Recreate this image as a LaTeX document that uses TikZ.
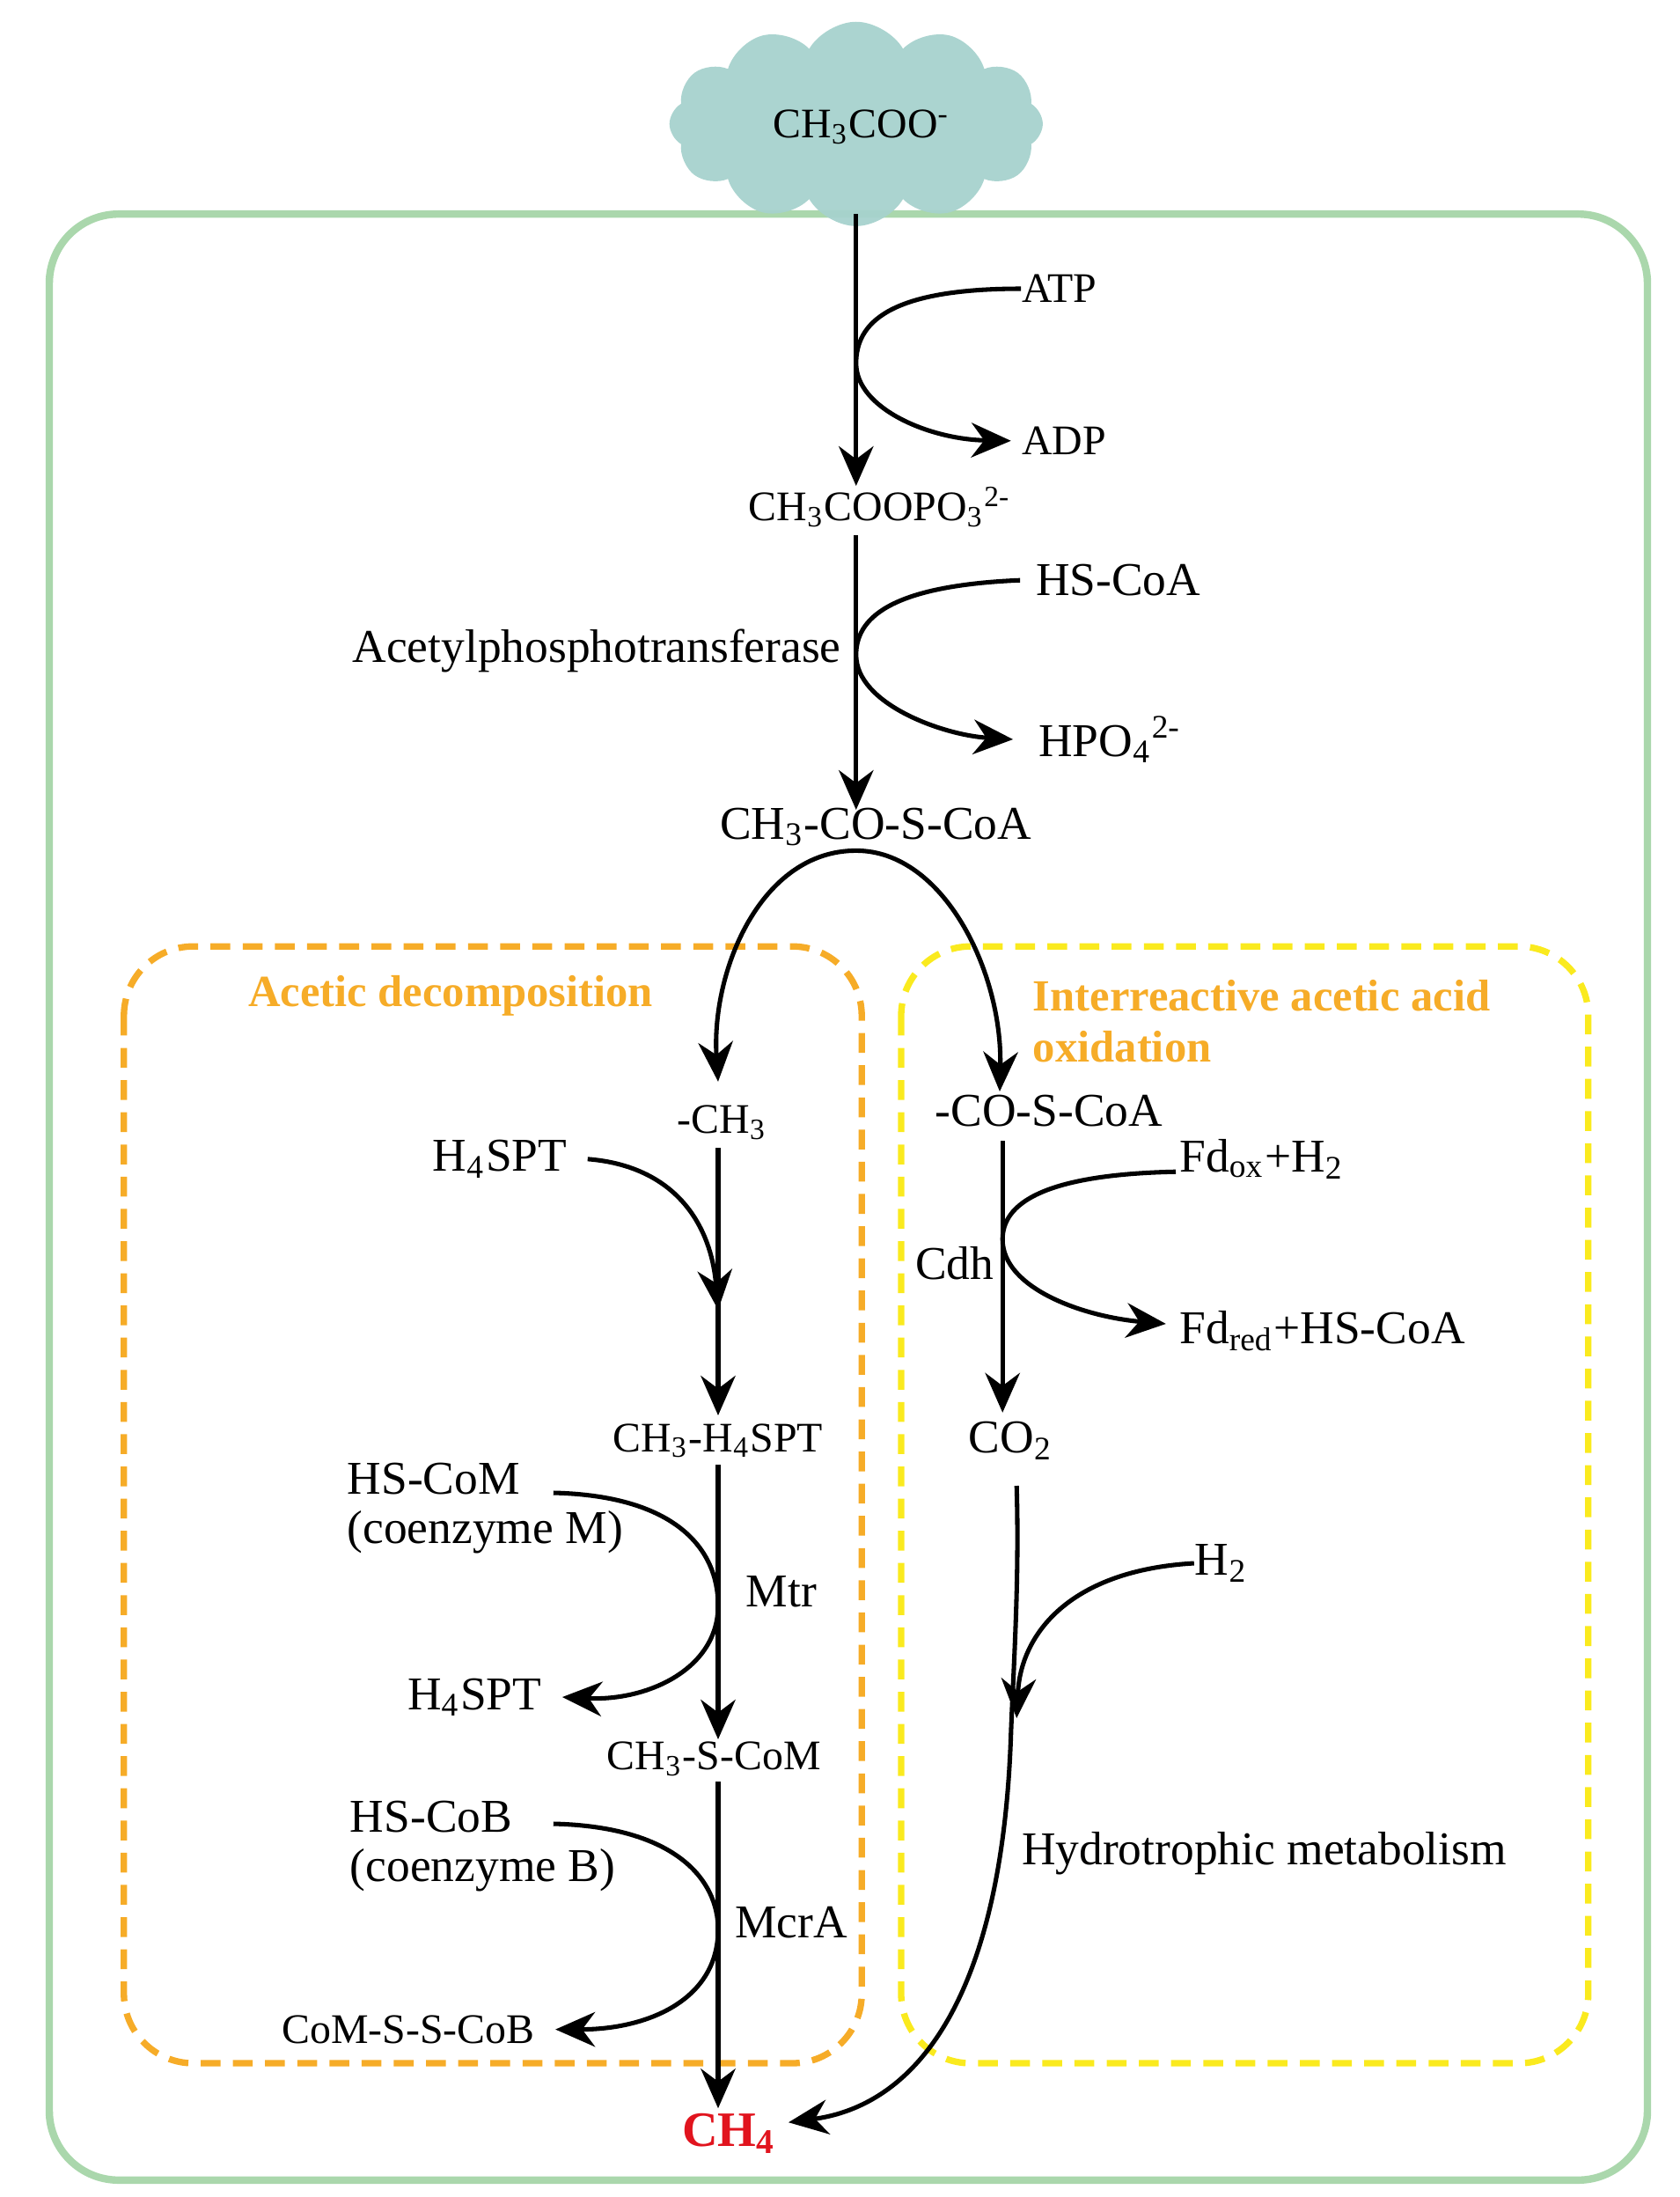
\documentclass[tikz,border=0pt]{standalone}
\usepackage{fontspec}
\setmainfont{Liberation Serif}
\usetikzlibrary{arrows.meta,shapes.symbols}
\definecolor{cloudc}{RGB}{166,210,205}
\definecolor{greenb}{RGB}{170,215,172}
\definecolor{orangeb}{RGB}{246,172,40}
\definecolor{yellowb}{RGB}{250,234,30}
\definecolor{ch4red}{RGB}{225,20,30}
\newcommand{\sub}[1]{\textsubscript{#1}}
\newcommand{\sups}[1]{\textsuperscript{#1}}
\begin{document}
\begin{tikzpicture}[x=0.01cm,y=-0.01cm,
  lab/.style={inner sep=0pt,font=\fontsize{9.5}{11}\selectfont},
  sm/.style={inner sep=0pt,font=\fontsize{8.5}{10}\selectfont},
  ar/.style={line width=0.9pt,-{Stealth[length=8pt,width=7pt]}},
  ln/.style={line width=0.9pt},
  dbox/.style={line width=1.3pt,dash pattern=on 4pt off 2.5pt,rounded corners=14},
  hdr/.style={inner sep=0pt,font=\fontsize{9}{11}\selectfont\bfseries,text=orangeb,align=left}]
\useasboundingbox (0,0) rectangle (1193,1560);
% boxes
\draw[greenb,line width=1.5pt,rounded corners=14] (35,152) rectangle (1170,1548);
% cloud
\node[cloud,cloud puffs=12,cloud puff arc=120,aspect=1.9,fill=cloudc,fill opacity=0.95,draw=none,minimum width=2.65cm,minimum height=1.45cm] (cl) at (608,88) {};
\node[sm] (ac) at (612,90) {CH\sub{3}COO\sups{-}};
\draw[orangeb,dbox] (88,672) rectangle (612,1465);
\draw[yellowb,dbox] (640,672) rectangle (1128,1465);
\node[hdr] (h1) at (320,707) {Acetic decomposition};
\node[hdr,anchor=west] (h2) at (733,707) {Interreactive acetic acid};
\node[hdr,anchor=west] (h3) at (733,743) {oxidation};
% step 1
\coordinate (top) at (608,152);
\node[sm] (p1) at (625,360) {CH\sub{3}COOPO\sub{3}\sups{2-}};
\draw[ar] (top) -- (608,345);
\node[sm,anchor=west] (atp) at (725,205) {ATP};
\node[sm,anchor=west] (adp) at (725,313) {ADP};
\coordinate (m1) at (608,258);
\draw[ar] (atp.west) .. controls (630,205) and (608,230) .. (m1) .. controls (608,290) and (660,312) .. ([xshift=-2pt]adp.west);
% step 2
\node[lab,anchor=west] (hscoa) at (735,412) {HS-CoA};
\node[lab,anchor=west] (hpo) at (737,525) {HPO\sub{4}\sups{2-}};
\node[lab,anchor=east] (apt) at (598,462) {Acetylphosphotransferase};
\node[lab] (acoa) at (622,587) {CH\sub{3}-CO-S-CoA};
\draw[ar] (608,380) -- (608,575);
\coordinate (m2) at (608,465);
\draw[ar] ([xshift=-3pt]hscoa.west) .. controls (630,416) and (608,440) .. (m2) .. controls (608,500) and (670,522) .. ([xshift=-5pt]hpo.west);
% split
\coordinate (sp) at (608,604);
\node[sm] (ch3) at (513,797) {-CH\sub{3}};
\node[lab] (cosc) at (745,789) {-CO-S-CoA};
\draw[ar] (sp) .. controls (540,604) and (505,690) .. (510,768);
\draw[ar] (sp) .. controls (670,604) and (712,690) .. (710,775);
% left column
\node[lab] (h4a) at (355,823) {H\sub{4}SPT};
\draw[ln] (510,815) -- (510,930);
\draw[ar] (510,915) -- (510,1005);
\draw[ar] ([xshift=4pt]h4a.east) .. controls (480,828) and (505,870) .. (510,930);
\node[sm] (c3h4) at (510,1023) {CH\sub{3}-H\sub{4}SPT};
\node[lab,anchor=west] (hscom) at (246,1050) {HS-CoM};
\node[lab,anchor=west] (cozm) at (246,1088) {(coenzyme M)};
\node[lab] (h4b) at (337,1205) {H\sub{4}SPT};
\node[lab] (mtr) at (555,1130) {Mtr};
\draw[ar] (510,1040) -- (510,1235);
\draw[ar] (393,1060) .. controls (480,1062) and (510,1100) .. (510,1140) .. controls (510,1185) and (460,1208) .. ([xshift=4pt]h4b.east);
\node[sm] (csc) at (507,1249) {CH\sub{3}-S-CoM};
\node[lab,anchor=west] (hscob) at (248,1290) {HS-CoB};
\node[lab,anchor=west] (cozb) at (248,1328) {(coenzyme B)};
\node[sm] (coms) at (290,1441) {CoM-S-S-CoB};
\node[lab] (mcra) at (562,1365) {McrA};
\node[font=\fontsize{10}{12}\selectfont\bfseries,text=ch4red,inner sep=0pt] (ch4) at (518,1515) {CH\sub{4}};
\draw[ar] (510,1265) -- (510,1497);
\draw[ar] (393,1295) .. controls (480,1297) and (510,1335) .. (510,1370) .. controls (510,1420) and (460,1441) .. ([xshift=4pt]coms.east);
% right column
\node[lab,anchor=west] (fdox) at (837,823) {Fd\sub{ox}+H\sub{2}};
\node[lab,anchor=west] (fdred) at (837,945) {Fd\sub{red}+HS-CoA};
\node[lab] (cdh) at (678,897) {Cdh};
\node[lab] (co2) at (718,1023) {CO\sub{2}};
\draw[ar] (712,810) -- (712,1003);
\draw[ar] (835,832) .. controls (740,834) and (712,855) .. (712,880) .. controls (712,915) and (770,935) .. (828,940);
\node[lab,anchor=west] (h2) at (848,1110) {H\sub{2}};
\draw[ar] (h2.west) .. controls (760,1115) and (725,1160) .. (722,1220);
\draw[ar] (722,1055) .. controls (724,1120) and (720,1180) .. (718,1230) .. controls (712,1420) and (650,1495) .. (560,1507);
\node[lab,anchor=west] (hyd) at (725,1316) {Hydrotrophic metabolism};
\end{tikzpicture}
\end{document}
